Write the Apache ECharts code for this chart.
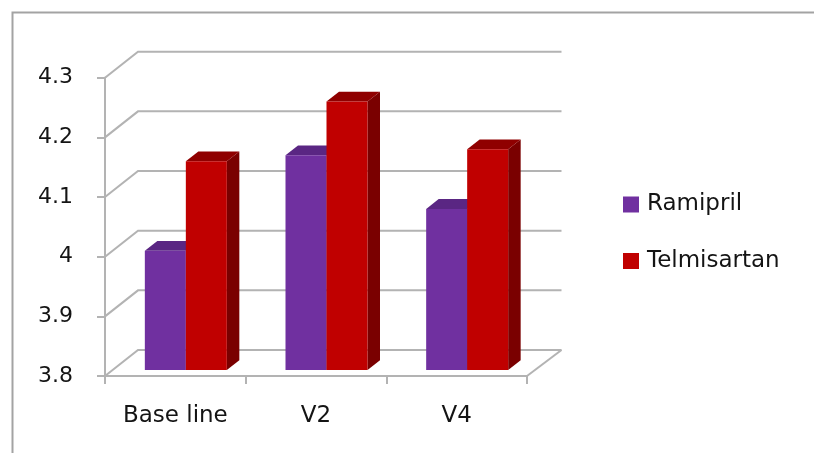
<!DOCTYPE html>
<html>
<head>
<meta charset="utf-8">
<script src="https://cdn.jsdelivr.net/npm/echarts@6/dist/echarts.min.js"></script>
<style>
html,body{margin:0;padding:0;background:#fff;}
#chart{width:814px;height:453px;}
</style>
</head>
<body>
<div id="chart"></div>
<script>
// ---- data ----
var categories = ['Base line', 'V2', 'V4'];
var ramipril = [4.00, 4.16, 4.07];
var telmisartan = [4.15, 4.25, 4.17];
var seriesNames = ['Ramipril', 'Telmisartan'];
var yMin = 3.8, yMax = 4.3, yStep = 0.1;

// ---- style constants ----
var FONT = 'DejaVu Sans';
var TEXT_COLOR = '#141414';
var GRID_COLOR = '#b3b3b3';
var WALL_DX = 34.5, WALL_DY = -26;    // back wall depth offset (px)
var BAR_DX = 12.5, BAR_DY = -9.8;     // bar depth offset (px)
var BAR_SHIFT_X = 10.5, BAR_SHIFT_Y = -6; // bars sit part-way back on the floor
var BAR_W = 41;
var colors = {
  Ramipril: {front: '#7030A0', top: '#5a2683', side: '#4a1f6c'},
  Telmisartan: {front: '#C00000', top: '#8f0000', side: '#7a0000'}
};

var chart = echarts.init(document.getElementById('chart'));

function wallRender(params, api) {
  var children = [];
  var nTicks = Math.round((yMax - yMin) / yStep);
  var right = api.coord([categories.length - 1, yMin])[0] + api.size([1, 0])[0] / 2;
  var left = api.coord([0, yMin])[0] - api.size([1, 0])[0] / 2;
  for (var k = 0; k <= nTicks; k++) {
    var v = yMin + k * yStep;
    var y = api.coord([0, v])[1];
    children.push({
      type: 'polyline',
      shape: {points: [[left, y], [left + WALL_DX - 1.5, y + WALL_DY], [right + WALL_DX, y + WALL_DY]]},
      style: {stroke: GRID_COLOR, lineWidth: 2, fill: null}
    });
  }
  var yb = api.coord([0, yMin])[1];
  children.push({
    type: 'line',
    shape: {x1: right, y1: yb, x2: right + WALL_DX, y2: yb + WALL_DY},
    style: {stroke: GRID_COLOR, lineWidth: 2}
  });
  return {type: 'group', children: children};
}

function makeBarRender(seriesIdx, name) {
  return function (params, api) {
    var ci = api.value(0);
    var val = api.value(1);
    var c = api.coord([ci, yMin]);
    var top = api.coord([ci, val]);
    var groupLeft = c[0] + BAR_SHIFT_X - BAR_W;
    var x0 = groupLeft + seriesIdx * BAR_W;
    var x1 = x0 + BAR_W;
    var yb = c[1] + BAR_SHIFT_Y;
    var yt = top[1] + BAR_SHIFT_Y;
    var col = colors[name];
    return {
      type: 'group',
      children: [
        {type: 'polygon', shape: {points: [[x1, yt], [x1 + BAR_DX, yt + BAR_DY], [x1 + BAR_DX, yb + BAR_DY], [x1, yb]]},
          style: {fill: col.side}},
        {type: 'polygon', shape: {points: [[x0, yt], [x1, yt], [x1 + BAR_DX, yt + BAR_DY], [x0 + BAR_DX, yt + BAR_DY]]},
          style: {fill: col.top}},
        {type: 'rect', shape: {x: x0, y: yt, width: BAR_W, height: yb - yt},
          style: {fill: col.front}}
      ]
    };
  };
}

function toData(arr) {
  return arr.map(function (v, i) { return [i, v]; });
}

chart.setOption({
  animation: false,
  backgroundColor: '#ffffff',
  graphic: [{
    type: 'rect', left: 10, top: 10, z: -10,
    shape: {x: 0, y: 0, width: 900, height: 500},
    style: {fill: null, stroke: '#a3a3a3', lineWidth: 2}
  }],
  grid: {left: 105, right: 287, top: 77.7, bottom: 77, containLabel: false},
  legend: {
    orient: 'vertical',
    left: 623, top: 192.5, padding: 0,
    itemWidth: 16, itemHeight: 16, itemGap: 32.5,
    icon: 'rect',
    data: seriesNames,
    textStyle: {fontFamily: FONT, fontSize: 23, color: TEXT_COLOR, lineHeight: 24, padding: [0, 0, 0, 3]}
  },
  xAxis: {
    type: 'category',
    data: categories,
    axisLine: {show: true, lineStyle: {color: GRID_COLOR, width: 2}},
    axisTick: {show: true, length: 8, lineStyle: {color: GRID_COLOR, width: 2}},
    axisLabel: {fontFamily: FONT, fontSize: 23, color: TEXT_COLOR, margin: 29},
    splitLine: {show: false}
  },
  yAxis: {
    type: 'value',
    min: yMin, max: yMax, interval: yStep,
    axisLine: {show: true, lineStyle: {color: GRID_COLOR, width: 2}},
    axisTick: {show: true, length: 8, lineStyle: {color: GRID_COLOR, width: 2}},
    axisLabel: {fontFamily: FONT, fontSize: 22, color: TEXT_COLOR, margin: 32,
      formatter: function (v) { return String(Math.round(v * 10) / 10); }},
    splitLine: {show: false}
  },
  series: [
    {type: 'custom', name: '_wall', renderItem: wallRender, data: [[0, yMin]], z: 1, silent: true},
    {type: 'custom', name: seriesNames[0], renderItem: makeBarRender(0, 'Ramipril'),
      itemStyle: {color: colors.Ramipril.front}, data: toData(ramipril), z: 2},
    {type: 'custom', name: seriesNames[1], renderItem: makeBarRender(1, 'Telmisartan'),
      itemStyle: {color: colors.Telmisartan.front}, data: toData(telmisartan), z: 3}
  ]
});
</script>
</body>
</html>
